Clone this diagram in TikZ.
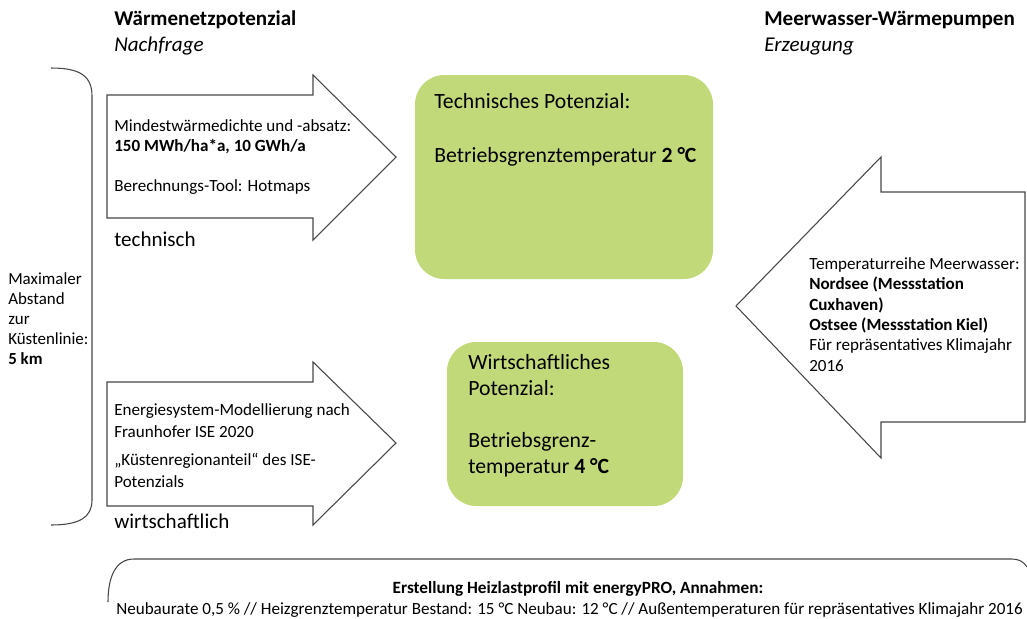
\documentclass[tikz,border=0pt]{standalone}
\usepackage{fontspec}
\setmainfont{Carlito}
\usetikzlibrary{positioning}
\definecolor{potgreen}{RGB}{194,217,122}
\definecolor{outline}{RGB}{70,70,70}
\tikzset{
  outl/.style={draw=outline, line width=0.8pt},
  potbox/.style={fill=potgreen, rounded corners=22pt},
  txt/.style={anchor=base west, align=left, inner sep=0pt, font=\fontsize{12.8}{15.2}\selectfont},
  head/.style={anchor=base west, align=left, inner sep=0pt, font=\fontsize{15.8}{19.5}\selectfont},
  gtxt/.style={anchor=base west, align=left, inner sep=0pt, font=\fontsize{16.3}{19.5}\selectfont},
}
\begin{document}
\begin{tikzpicture}[x=0.75pt, y=-0.75pt]
    \useasboundingbox (0,0) rectangle (1027,618);
    % headings
    \node[head] (nachfrage) at (114,51) {\textbf{Wärmenetzpotenzial}\\\textit{Nachfrage}};
    \node[head] (erzeugung) at (764,51) {\textbf{Meerwasser-Wärmepumpen}\\\textit{Erzeugung}};
    % bracket
    \draw[outl] (51,68) .. controls (80,68) and (92,76) .. (92,96) -- (92,500)
        .. controls (92,517) and (80,525) .. (51,525);
    \node[txt, font=\fontsize{12.7}{15}\selectfont] (abstand) at (8,364) {Maximaler\\Abstand\\zur\\Küstenlinie:\\\textbf{5 km}};
    % arrows to the right
    \draw[outl] (107,95) -- (313,95) -- (313,75) -- (396,157) -- (313,240) -- (313,218) -- (107,218) -- cycle;
    \draw[outl] (107,382) -- (313,382) -- (313,362) -- (396,443) -- (313,525) -- (313,506) -- (107,506) -- cycle;
    \node[txt, font=\fontsize{12.8}{14.3}\selectfont] (techtxt) at (114,191) {Mindestwärmedichte und -absatz:\\\textbf{150 MWh/ha*a, 10 GWh/a}\\[15.7pt]Berechnungs-Tool: Hotmaps};
    \node[txt, font=\fontsize{12.8}{16.5}\selectfont] (wirttxt) at (114,487) {Energiesystem-Modellierung nach\\Fraunhofer ISE 2020\\[4.5pt]„Küstenregionanteil“ des ISE-\\Potenzials};
    \node[head] (technisch) at (114,246) {technisch};
    \node[head] (wirtschaftlich) at (114,528) {wirtschaftlich};
    % potential boxes
    \path[potbox] (415,75) rectangle (713,279);
    \path[potbox] (447,342) rectangle (683,506);
    \node[gtxt, font=\fontsize{16.3}{20.25}\selectfont] (techpot) at (434,162) {Technisches Potenzial:\\[20.25pt]Betriebsgrenztemperatur \textbf{2 °C}};
    \node[gtxt] (wirtpot) at (468,473) {Wirtschaftliches\\Potenzial:\\[19.5pt]Betriebsgrenz-\\temperatur \textbf{4 °C}};
    % arrow to the left
    \draw[outl] (736,306) -- (881,157) -- (881,192) -- (1025,192) -- (1025,422) -- (881,422) -- (881,458) -- cycle;
    \node[txt] (meerwasser) at (809,371) {Temperaturreihe Meerwasser:\\\textbf{Nordsee (Messstation}\\\textbf{Cuxhaven)}\\\textbf{Ostsee (Messstation Kiel)}\\Für repräsentatives Klimajahr\\2016};
    % heat load profile
    \draw[outl] (108,602) .. controls (108,576) and (116,559) .. (134,559) -- (1012,559)
        .. controls (1019,559) and (1024,562) .. (1027,567);
    \node[anchor=base, inner sep=0pt, font=\fontsize{12.9}{15}\selectfont\bfseries] (heizlast) at (578,593) {Erstellung Heizlastprofil mit energyPRO, Annahmen:};
    \node[anchor=base, inner sep=0pt, font=\fontsize{12.8}{15}\selectfont] (annahmen) at (569.5,614) {Neubaurate 0,5 \% // Heizgrenztemperatur Bestand: 15 °C Neubau: 12 °C // Außentemperaturen für repräsentatives Klimajahr 2016};
\end{tikzpicture}
\end{document}
